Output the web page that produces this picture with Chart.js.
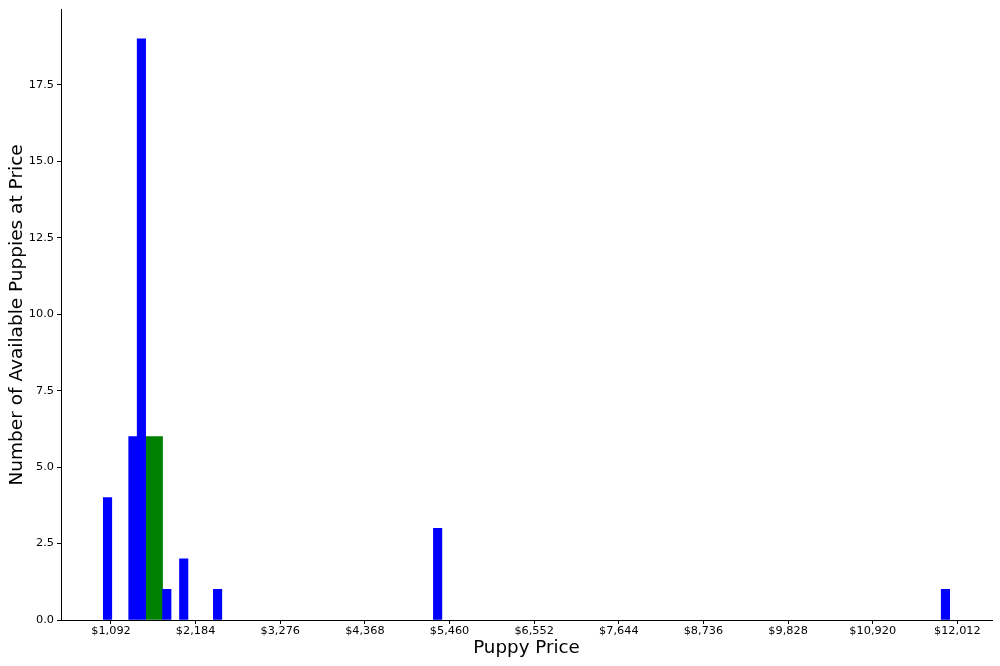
<!DOCTYPE html>
<html>
<head>
<meta charset="utf-8">
<script src="https://cdn.jsdelivr.net/npm/chart.js@4.4.1/dist/chart.umd.min.js"></script>
<style>
	body { margin: 0; background: #fff; }
	#wrap { width: 1000px; height: 666px; position: relative; }
</style>
</head>
<body>
<div id="wrap"><canvas id="myChart"></canvas></div>
<script>
// histogram bins (bin centre price -> count)
const blueBinPrices = [1047.6, 1375.2, 1484.4, 1812.0, 2030.4, 2467.2, 5306.4, 11858.4];
const blueCounts = [4, 6, 19, 1, 2, 1, 3, 1];
const greenBinPrices = [1593.6, 1702.8];
const greenCounts = [6, 6];

const xTickValues = [1092, 2184, 3276, 4368, 5460, 6552, 7644, 8736, 9828, 10920, 12012];
const yTickValues = [0, 2.5, 5, 7.5, 10, 12.5, 15, 17.5];

const font = 'DejaVu Sans';

function toPoints(xs, ys) {
	return xs.map((x, i) => ({ x: x, y: ys[i] }));
}

const ctx = document.getElementById('myChart');

new Chart(ctx, {
	type: 'bar',
	data: {
		datasets: [
			{
				data: toPoints(blueBinPrices, blueCounts),
				backgroundColor: '#0000ff',
				borderWidth: 0,
			},
			{
				data: toPoints(greenBinPrices, greenCounts),
				backgroundColor: '#008000',
				borderWidth: 0,
			},
		],
	},
	options: {
		responsive: true,
		maintainAspectRatio: false,
		animation: false,
		datasets: {
			bar: {
				grouped: false,
				barPercentage: 1,
				categoryPercentage: 1,
			},
		},
		layout: {
			padding: { top: 6, right: 8, left: 0, bottom: 0 },
		},
		scales: {
			x: {
				type: 'linear',
				min: 447,
				max: 12459,
				offset: false,
				grid: {
					offset: false,
					drawOnChartArea: false,
					tickLength: 4,
					tickColor: '#000',
				},
				border: { display: true, color: '#000', width: 1 },
				afterBuildTicks: (scale) => {
					scale.ticks = xTickValues.map((v) => ({ value: v }));
				},
				afterFit: (scale) => {
					scale.height = 46;
				},
				ticks: {
					autoSkip: false,
					maxRotation: 0,
					padding: 0,
					color: '#000',
					font: { family: font, size: 11.3 },
					callback: (v) => '$' + Number(v).toLocaleString('en-US'),
				},
				title: {
					display: true,
					text: 'Puppy Price',
					color: '#000',
					font: { family: font, size: 18.3 },
					padding: { top: 0, bottom: 7 },
				},
			},
			y: {
				min: 0,
				max: 19.95,
				grid: {
					drawOnChartArea: false,
					tickLength: 4,
					tickColor: '#000',
				},
				border: { display: true, color: '#000', width: 1 },
				afterBuildTicks: (scale) => {
					scale.ticks = yTickValues.map((v) => ({ value: v }));
				},
				afterFit: (scale) => {
					scale.width = 61;
				},
				ticks: {
					padding: 3,
					color: '#000',
					font: { family: font, size: 11.3 },
					callback: (v) => Number(v).toFixed(1),
				},
				title: {
					display: true,
					text: 'Number of Available Puppies at Price',
					color: '#000',
					font: { family: font, size: 18.5 },
					padding: { top: 6, bottom: 0 },
				},
			},
		},
		plugins: {
			legend: { display: false },
			tooltip: { enabled: false },
		},
	},
});
</script>
</body>
</html>
